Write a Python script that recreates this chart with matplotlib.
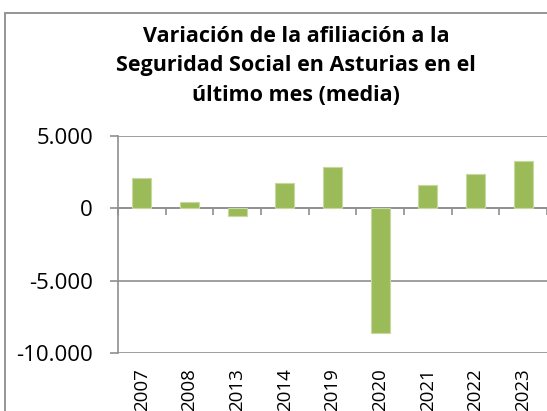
import matplotlib
matplotlib.use("Agg")
import matplotlib.pyplot as plt
from matplotlib.patches import Rectangle
from matplotlib.ticker import FuncFormatter

categories = ["2007", "2008", "2013", "2014", "2019", "2020", "2021", "2022", "2023"]
values = [2125, 440, -530, 1760, 2870, -8640, 1600, 2360, 3260]
title = "Variación de la afiliación a la\nSeguridad Social en Asturias en el\núltimo mes (media)"
yticks = [-10000, -5000, 0, 5000]

FONT = "Open Sans"
plt.rcParams['font.family'] = [FONT, 'DejaVu Sans']

W, H, DPI = 547, 411, 100
fig = plt.figure(figsize=(W / DPI, H / DPI), dpi=DPI)
fig.patch.set_facecolor("white")

# outer chart frame
fig.patches.append(Rectangle((5 / W, -0.5), 2, 1.5 - 13 / H, transform=fig.transFigure,
                             fill=False, edgecolor="#8c8c8c", linewidth=1.3, zorder=0))

left, right, top, bottom = 118 / W, 1.0, 1 - 136 / H, 1 - 353 / H
ax = fig.add_axes([left, bottom, right - left, top - bottom])

gray = "#8f8f8f"
x = list(range(len(categories)))
ax.bar(x, values, width=0.4, color="#9BBB59", edgecolor="#c5d9a0", linewidth=0.8, zorder=3)

ax.set_xlim(-0.5, len(categories) - 0.5)
ax.set_ylim(min(yticks), max(yticks))
ax.set_yticks(yticks)
ax.yaxis.set_major_formatter(FuncFormatter(lambda v, p: f"{int(v):,}".replace(",", ".")))
ax.grid(axis="y", color=gray, linewidth=1.2, zorder=0)
ax.set_axisbelow(True)

for s in ["top", "right", "bottom"]:
    ax.spines[s].set_visible(False)
ax.spines["left"].set_color(gray)
ax.spines["left"].set_linewidth(1.2)
ax.tick_params(axis="y", direction="out", length=6, width=1.2, color=gray,
               labelsize=16, pad=12, labelcolor="black")

ax.set_xticks(x)
ax.set_xticklabels(categories, rotation=90)
ax.tick_params(axis="x", length=0, labelsize=13.5, pad=11, labelcolor="black")

# zero axis with category boundary ticks
sec = ax.secondary_xaxis(0, transform=ax.transData)
sec.set_xticks([i - 0.5 for i in range(len(categories) + 1)])
sec.set_xticklabels([])
sec.tick_params(direction="out", length=5, width=1.2, color=gray)
sec.spines["bottom"].set_color(gray)
sec.spines["bottom"].set_linewidth(1.2)

fig.text(0.541, 1 - 66 / H, title, ha="center", va="center", fontsize=15.5,
         fontweight="bold", linespacing=1.55)

fig.savefig("out.png", dpi=DPI)
